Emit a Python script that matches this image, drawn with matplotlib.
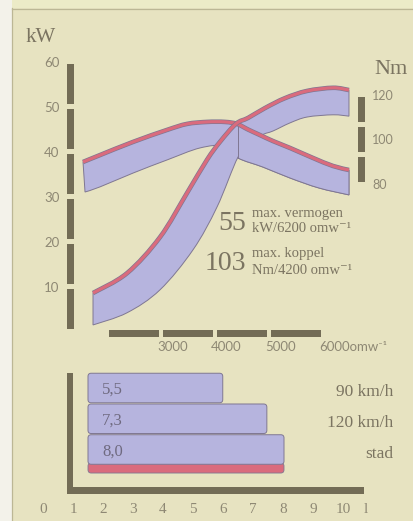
import numpy as np
import matplotlib
matplotlib.use("Agg")
import matplotlib.pyplot as plt
from matplotlib.patches import Rectangle, PathPatch, FancyBboxPatch
from matplotlib.path import Path
from matplotlib.transforms import blended_transform_factory as blend, ScaledTranslation
import matplotlib.patheffects as pe

# ---------------- data ----------------
power_rpm = [1741, 2370, 2981, 3481, 3852, 4093, 4389, 4611, 4926, 5296, 5704, 6185, 6481]
power_kw = [8.6, 13.0, 21.0, 30.8, 38.2, 42.2, 46.2, 47.5, 49.7, 51.9, 53.5, 54.2, 53.7]
power_base_rpm = [1741, 2370, 2981, 3593, 4037, 4426, 4648, 4870, 5074, 5389, 5704, 6185, 6481]
power_base_kw = [1.5, 4.2, 9.3, 18.2, 27.7, 38.8, 41.5, 43.7, 44.6, 46.4, 47.7, 48.2, 47.9]

torque_rpm = [1556, 1870, 2481, 3111, 3481, 3852, 4185, 4407, 4611, 4833, 5074, 5389, 5815, 6185, 6481]
torque_nm = [89.9, 93.0, 98.9, 104.3, 107.0, 107.9, 107.9, 107.0, 104.5, 102.0, 99.3, 96.2, 91.7, 88.1, 86.3]
torque_base_rpm = [1593, 1870, 2481, 3111, 3722, 4185, 4426, 4889, 5389, 5926, 6481]
torque_base_nm = [76.4, 78.7, 84.9, 90.8, 96.2, 97.1, 91.7, 87.6, 82.7, 78.2, 75.1]
fold_rpm = 4426

kw_ticks = [10, 20, 30, 40, 50, 60]
kw_bar = [0, 10, 20, 30, 40, 50, 60]
nm_ticks = [80, 100, 120]
nm_bar = [80, 93.33, 106.67, 120]
rpm_ticks = [3000, 4000, 5000, 6000]
rpm_tick_labels = ["3000", "4000", "5000", "6000omw\u207b\u00b9"]
rpm_bar = [2000, 3000, 4000, 5000, 6000]

max_power = "55"
max_power_lines = ["max. vermogen", "kW/6200 omw\u207b\u00b9"]
max_torque = "103"
max_torque_lines = ["max. koppel", "Nm/4200 omw\u207b\u00b9"]

fuel_labels = ["90 km/h", "120 km/h", "stad"]
fuel_values = [5.5, 7.3, 8.0]
fuel_value_text = ["5,5", "7,3", "8,0"]
fuel_ticks = [0, 1, 2, 3, 4, 5, 6, 7, 8, 9, 10]
fuel_tick_labels = ["0", "1", "2", "3", "4", "5", "6", "7", "8", "9", "10"]
fuel_unit = "l"

# ---------------- style ----------------
W, H = 414, 521
BG = "#e7e3c1"
TOPSTRIP = "#ecebc7"
MARGIN = "#f3f2ea"
BAR = "#736c56"
LAV = "#b6b4de"
RED = "#da6b7d"
EDGE = "#7f7792"
TXT = "#7b7461"
TICK = "#8e8874"
VALTXT = "#6f6a80"
SERIF = ["Liberation Serif", "DejaVu Serif"]
SANS = ["Lato", "DejaVu Sans"]

# pixel calibration of the scales
RPM_PX, RPM_OFF = 0.054, -1.0
KW0_PY, KW_PX = 331.7, 4.5
NM120_PY, NM_PX = 95.0, 2.225
FU0_PX, FU_PX = 88.0, 24.5
TK0_PX, TK_PX = 43.0, 30.0
ROW0_PY, ROW_PX = 388.0, 30.75

def box(l, t, r, b):
    return [l / W, 1 - b / H, (r - l) / W, (b - t) / H]

def bezier_verts(x, y):
    """Smooth (Catmull-Rom) cubic Bezier vertices through the given points."""
    P = np.column_stack([x, y]).astype(float)
    n = len(P)
    verts = [P[0]]
    for i in range(n - 1):
        p0 = P[i - 1] if i > 0 else P[i]
        p1, p2 = P[i], P[i + 1]
        p3 = P[i + 2] if i + 2 < n else P[i + 1]
        verts += [p1 + (p2 - p0) / 6.0, p2 - (p3 - p1) / 6.0, p2]
    return np.array(verts)

def curve_path(x, y):
    v = bezier_verts(x, y)
    codes = [Path.MOVETO] + [Path.CURVE4] * (len(v) - 1)
    return Path(v, codes)

def ribbon_path(xt, yt, xb, yb):
    vt = bezier_verts(xt, yt)
    vb = bezier_verts(xb[::-1], yb[::-1])
    verts = np.vstack([vt, vb, vt[:1]])
    codes = ([Path.MOVETO] + [Path.CURVE4] * (len(vt) - 1) + [Path.LINETO]
             + [Path.CURVE4] * (len(vb) - 1) + [Path.CLOSEPOLY])
    return Path(verts, codes)

fig = plt.figure(figsize=(W / 100, H / 100), dpi=100)
fig.patch.set_facecolor(MARGIN)

# background / decoration axes in pixel units
deco = fig.add_axes([0, 0, 1, 1], zorder=0)
deco.set_xlim(0, W)
deco.set_ylim(H, 0)
deco.axis("off")
deco.add_patch(Rectangle((12, 8), W - 12, H - 8, fc=BG, ec="none"))
deco.add_patch(Rectangle((12, 0), W - 12, 8, fc=TOPSTRIP, ec="none"))
deco.plot([12.5, 12.5], [8, H], color="#bcb795", lw=0.9)
deco.plot([12, W], [8.5, 8.5], color="#bcb795", lw=0.9)

# ---------------- engine chart ----------------
ax = fig.add_axes(box(60, 50, 370, 338), zorder=2)
ax.patch.set_alpha(0)
ax.set_xlim((60 - RPM_OFF) / RPM_PX, (370 - RPM_OFF) / RPM_PX)
ax.set_ylim((KW0_PY - 338) / KW_PX, (KW0_PY - 50) / KW_PX)
ax2 = ax.twinx()
ax2.set_ylim(120 - (338 - NM120_PY) / NM_PX, 120 - (50 - NM120_PY) / NM_PX)
for a in (ax, ax2):
    for s in a.spines.values():
        s.set_visible(False)

ax.set_yticks(kw_ticks)
ax.set_yticklabels([str(v) for v in kw_ticks], family=SANS, fontsize=9.5, color=TICK)
ax.tick_params(axis="y", length=0, pad=0.5)
ax.set_xticks(rpm_ticks)
ax.set_xticklabels(rpm_tick_labels, family=SANS, fontsize=9.5, color=TICK)
ax.tick_params(axis="x", length=0, pad=2.5)
for lab in ax.get_xticklabels():
    lab.set_ha("left")
    lab.set_transform(lab.get_transform() + ScaledTranslation(-4 / 100, 0, fig.dpi_scale_trans))
ax2.set_yticks(nm_ticks)
ax2.set_yticklabels([str(v) for v in nm_ticks], family=SANS, fontsize=9, color=TICK)
ax2.tick_params(axis="y", length=0, pad=1.5)

# scale bars
tr_kw = blend(deco.transData, ax.transData)
for a0, a1 in zip(kw_bar[:-1], kw_bar[1:]):
    ax.add_patch(Rectangle((67, a0 + 0.5), 7, (a1 - a0) - 1.0, transform=tr_kw,
                           fc=BAR, ec="none", clip_on=False, zorder=1))
tr_rpm = blend(ax.transData, deco.transData)
for a0, a1 in zip(rpm_bar[:-1], rpm_bar[1:]):
    ax.add_patch(Rectangle((a0 + 37, 330), (a1 - a0) - 74, 7, transform=tr_rpm,
                           fc=BAR, ec="none", clip_on=False, zorder=1))
tr_nm = blend(deco.transData, ax2.transData)
for a0, a1 in zip(nm_bar[:-1], nm_bar[1:]):
    ax.add_patch(Rectangle((358, a0 + 1.1), 7, (a1 - a0) - 2.2, transform=tr_nm,
                           fc=BAR, ec="none", clip_on=False, zorder=1))

trq_x, trq_y = np.array(torque_rpm, float), np.array(torque_nm, float)
trb_x, trb_y = np.array(torque_base_rpm, float), np.array(torque_base_nm, float)
pw_x, pw_y = np.array(power_rpm, float), np.array(power_kw, float)
pwb_x, pwb_y = np.array(power_base_rpm, float), np.array(power_base_kw, float)

torque_ribbon = ribbon_path(trq_x, trq_y, trb_x, trb_y)
# torque ribbon (back)
ax.add_patch(PathPatch(torque_ribbon, transform=ax2.transData, fc=LAV, ec=EDGE, lw=0.7, zorder=2))
# power ribbon
ax.add_patch(PathPatch(ribbon_path(pw_x, pw_y, pwb_x, pwb_y), transform=ax.transData,
                       fc=LAV, ec=EDGE, lw=0.7, zorder=3))
# torque ribbon right of the fold, in front of the power ribbon
front = PathPatch(torque_ribbon, transform=ax2.transData, fc=LAV, ec=EDGE, lw=0.7, zorder=4)
ax.add_patch(front)
clip = Rectangle((fold_rpm, 0), 1e5, 1, transform=blend(ax.transData, ax.transAxes))
front.set_clip_path(clip)
ax.plot([fold_rpm, fold_rpm],
        [np.interp(fold_rpm, trq_x, trq_y), np.interp(fold_rpm, trb_x, trb_y)],
        transform=ax2.transData, color=EDGE, lw=0.7, zorder=4.5)

stroke = [pe.Stroke(linewidth=3.3, foreground=EDGE), pe.Normal()]
ax.add_patch(PathPatch(curve_path(trq_x, trq_y), transform=ax2.transData, fill=False,
                       ec=RED, lw=2.3, capstyle="butt", zorder=5, path_effects=stroke))
ax.add_patch(PathPatch(curve_path(pw_x, pw_y), transform=ax.transData, fill=False,
                       ec=RED, lw=2.3, capstyle="butt", zorder=6, path_effects=stroke))

# unit labels and notes
deco.text(41, 37, "kW", ha="center", va="center", family=SERIF, fontsize=15, color=TXT)
deco.text(391, 70, "Nm", ha="center", va="center", family=SERIF, fontsize=16, color=TXT)
deco.text(246, 223, max_power, ha="right", va="center", family=SERIF, fontsize=20, color=TXT)
deco.text(252, 213, max_power_lines[0], ha="left", va="center", family=SERIF, fontsize=10.5, color=TXT)
deco.text(252, 229, max_power_lines[1], ha="left", va="center", family=SERIF, fontsize=10.5, color=TXT)
deco.text(246, 263, max_torque, ha="right", va="center", family=SERIF, fontsize=20, color=TXT)
deco.text(252, 254, max_torque_lines[0], ha="left", va="center", family=SERIF, fontsize=10.5, color=TXT)
deco.text(252, 270, max_torque_lines[1], ha="left", va="center", family=SERIF, fontsize=10.5, color=TXT)

# ---------------- fuel chart ----------------
bx = fig.add_axes(box(30, 365, 400, 500), zorder=2)
bx.patch.set_alpha(0)
bx.set_xlim((30 - FU0_PX) / FU_PX, (400 - FU0_PX) / FU_PX)
bx.set_ylim((500 - ROW0_PY) / ROW_PX, (365 - ROW0_PY) / ROW_PX)
for s in bx.spines.values():
    s.set_visible(False)
bx.set_xticks([])
bx.set_yticks([])

# L-shaped axis
deco.add_patch(Rectangle((67, 373), 6.5, 120, fc=BAR, ec="none"))
deco.add_patch(Rectangle((67, 487), 297, 6.5, fc=BAR, ec="none"))

def round_bars(container, aspect):
    for r in container:
        (x0, y0), w, h = r.get_xy(), r.get_width(), r.get_height()
        fb = FancyBboxPatch((x0, y0), w, h, boxstyle="round,pad=0,rounding_size=0.13",
                            mutation_aspect=aspect, fc=r.get_facecolor(), ec=r.get_edgecolor(),
                            lw=r.get_linewidth(), zorder=r.get_zorder(), transform=bx.transData)
        r.set_visible(False)
        bx.add_patch(fb)

rows = np.arange(len(fuel_values))
base = bx.barh(rows[-1] + 0.6, fuel_values[-1], height=0.33, left=0, color=RED, edgecolor=EDGE,
               linewidth=0.6, zorder=2)
bars = bx.barh(rows, fuel_values, height=0.96, left=0, color=LAV, edgecolor=EDGE,
               linewidth=0.7, zorder=3)
round_bars(base, FU_PX / ROW_PX)
round_bars(bars, FU_PX / ROW_PX)
tr_lab = blend(deco.transData, bx.transData)
for i, (v, t, lab) in enumerate(zip(fuel_values, fuel_value_text, fuel_labels)):
    bx.annotate(t, xy=(0, i), xytext=(14, -2), textcoords="offset pixels", ha="left", va="center",
                family=SERIF, fontsize=12, color=VALTXT, zorder=4)
    bx.text(393, i, lab, transform=tr_lab + ScaledTranslation(0, -4 / 100, fig.dpi_scale_trans),
            ha="right", va="center", family=SERIF, fontsize=12.5, color=TXT)

tx = bx.twiny()
tx.set_xlim((30 - TK0_PX) / TK_PX, (400 - TK0_PX) / TK_PX)
for s in tx.spines.values():
    s.set_visible(False)
tx.xaxis.set_ticks_position("bottom")
tx.xaxis.set_label_position("bottom")
tx.set_xticks(fuel_ticks + [10.75])
tx.set_xticklabels(fuel_tick_labels + [fuel_unit], family=SERIF, fontsize=11, color=TICK)
tx.tick_params(axis="x", length=0, pad=2.5)

fig.savefig("out.png", dpi=100, facecolor=fig.get_facecolor())
